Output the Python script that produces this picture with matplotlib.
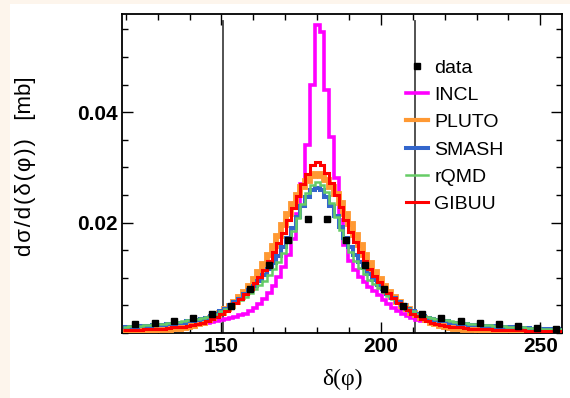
import matplotlib
matplotlib.use('Agg')
import matplotlib.pyplot as plt
from matplotlib.patches import Rectangle
from matplotlib.ticker import MultipleLocator
import numpy as np

# model histograms: 1.5-unit bins, centres 120 .. 256.5 (peak bin centred on 180)
bin_edges = np.arange(119.25, 257.3, 1.5)

incl = [0.0008, 0.0008, 0.0008, 0.0009, 0.0009, 0.0009, 0.0010, 0.0010, 0.0011, 0.0011,
        0.0012, 0.0012, 0.0013, 0.0014, 0.0015, 0.0016, 0.0017, 0.0018, 0.0020, 0.0021,
        0.0023, 0.0025, 0.0027, 0.0029, 0.0032, 0.0035, 0.0039, 0.0045, 0.0052, 0.0061,
        0.0072, 0.0085, 0.0102, 0.0120, 0.0142, 0.0170, 0.0215, 0.0270, 0.0340, 0.0450,
        0.0558,
        0.0545, 0.0440, 0.0355, 0.0280, 0.0205, 0.0160, 0.0130, 0.0114, 0.0102, 0.0092,
        0.0084, 0.0076, 0.0068, 0.0060, 0.0053, 0.0046, 0.0040, 0.0034, 0.0030, 0.0027,
        0.0024, 0.0022, 0.0021, 0.0019, 0.0018, 0.0017, 0.0016, 0.0015, 0.0015, 0.0014,
        0.0013, 0.0013, 0.0012, 0.0012, 0.0011, 0.0011, 0.0011, 0.0010, 0.0010, 0.0010,
        0.0009, 0.0009, 0.0009, 0.0008, 0.0008, 0.0008, 0.0008, 0.0007, 0.0007, 0.0007,
        0.0007]

pluto = [0.0002, 0.0003, 0.0003, 0.0003, 0.0003, 0.0004, 0.0004, 0.0005, 0.0005, 0.0006,
         0.0007, 0.0008, 0.0009, 0.0011, 0.0013, 0.0016, 0.0019, 0.0023, 0.0027, 0.0032,
         0.0037, 0.0043, 0.0049, 0.0057, 0.0065, 0.0075, 0.0085, 0.0097, 0.0110, 0.0125,
         0.0141, 0.0158, 0.0176, 0.0196, 0.0215, 0.0234, 0.0250, 0.0264, 0.0276, 0.0284,
         0.0288,
         0.0285, 0.0277, 0.0265, 0.0251, 0.0235, 0.0216, 0.0197, 0.0177, 0.0159, 0.0142,
         0.0126, 0.0111, 0.0098, 0.0086, 0.0075, 0.0066, 0.0057, 0.0049, 0.0043, 0.0037,
         0.0032, 0.0027, 0.0023, 0.0019, 0.0016, 0.0013, 0.0011, 0.0009, 0.0008, 0.0007,
         0.0006, 0.0005, 0.0005, 0.0004, 0.0004, 0.0003, 0.0003, 0.0003, 0.0003, 0.0002,
         0.0002, 0.0002, 0.0002, 0.0002, 0.0002, 0.0002, 0.0002, 0.0002, 0.0002, 0.0002,
         0.0002]

smash = [0.0010, 0.0011, 0.0011, 0.0012, 0.0012, 0.0013, 0.0014, 0.0015, 0.0015, 0.0016,
         0.0017, 0.0018, 0.0019, 0.0021, 0.0022, 0.0024, 0.0026, 0.0028, 0.0031, 0.0035,
         0.0039, 0.0044, 0.0050, 0.0056, 0.0062, 0.0070, 0.0078, 0.0086, 0.0095, 0.0105,
         0.0116, 0.0127, 0.0140, 0.0155, 0.0172, 0.0191, 0.0211, 0.0230, 0.0247, 0.0259,
         0.0263,
         0.0259, 0.0247, 0.0231, 0.0212, 0.0192, 0.0173, 0.0156, 0.0141, 0.0128, 0.0117,
         0.0106, 0.0096, 0.0087, 0.0079, 0.0071, 0.0063, 0.0056, 0.0050, 0.0044, 0.0039,
         0.0035, 0.0031, 0.0028, 0.0026, 0.0024, 0.0022, 0.0021, 0.0019, 0.0018, 0.0017,
         0.0016, 0.0015, 0.0015, 0.0014, 0.0013, 0.0012, 0.0012, 0.0011, 0.0011, 0.0010,
         0.0010, 0.0010, 0.0009, 0.0009, 0.0008, 0.0008, 0.0008, 0.0007, 0.0007, 0.0007,
         0.0006]

rqmd = [0.0011, 0.0012, 0.0013, 0.0013, 0.0014, 0.0015, 0.0016, 0.0016, 0.0017, 0.0018,
        0.0019, 0.0020, 0.0021, 0.0023, 0.0024, 0.0025, 0.0027, 0.0029, 0.0031, 0.0035,
        0.0039, 0.0044, 0.0050, 0.0055, 0.0060, 0.0066, 0.0073, 0.0080, 0.0087, 0.0095,
        0.0105, 0.0116, 0.0129, 0.0145, 0.0164, 0.0185, 0.0209, 0.0234, 0.0254, 0.0268,
        0.0274,
        0.0268, 0.0255, 0.0235, 0.0210, 0.0186, 0.0165, 0.0146, 0.0130, 0.0117, 0.0106,
        0.0096, 0.0088, 0.0081, 0.0074, 0.0067, 0.0061, 0.0055, 0.0050, 0.0044, 0.0039,
        0.0035, 0.0031, 0.0029, 0.0027, 0.0025, 0.0024, 0.0023, 0.0021, 0.0020, 0.0019,
        0.0018, 0.0017, 0.0016, 0.0016, 0.0015, 0.0014, 0.0013, 0.0013, 0.0012, 0.0011,
        0.0011, 0.0010, 0.0010, 0.0009, 0.0009, 0.0009, 0.0008, 0.0008, 0.0008, 0.0007,
        0.0007]

gibuu = [0.0005, 0.0006, 0.0006, 0.0006, 0.0007, 0.0007, 0.0007, 0.0008, 0.0008, 0.0009,
         0.0010, 0.0010, 0.0011, 0.0013, 0.0015, 0.0017, 0.0019, 0.0022, 0.0025, 0.0029,
         0.0034, 0.0040, 0.0046, 0.0054, 0.0062, 0.0071, 0.0080, 0.0091, 0.0102, 0.0115,
         0.0130, 0.0146, 0.0163, 0.0182, 0.0204, 0.0227, 0.0249, 0.0270, 0.0289, 0.0304,
         0.0310,
         0.0305, 0.0290, 0.0271, 0.0250, 0.0228, 0.0205, 0.0183, 0.0164, 0.0147, 0.0131,
         0.0116, 0.0103, 0.0092, 0.0081, 0.0072, 0.0063, 0.0055, 0.0047, 0.0041, 0.0035,
         0.0030, 0.0026, 0.0022, 0.0019, 0.0017, 0.0015, 0.0013, 0.0011, 0.0010, 0.0010,
         0.0009, 0.0008, 0.0008, 0.0007, 0.0007, 0.0007, 0.0006, 0.0006, 0.0006, 0.0005,
         0.0005, 0.0005, 0.0005, 0.0004, 0.0004, 0.0004, 0.0004, 0.0003, 0.0003, 0.0003,
         0.0003]

# measured points (6-unit bins)
data_x = [123, 129, 135, 141, 147, 153, 159, 165, 171, 177, 183, 189,
          195, 201, 207, 213, 219, 225, 231, 237, 243, 249, 255]
data_y = [0.0017, 0.0019, 0.0022, 0.0028, 0.0034, 0.0049, 0.0079, 0.0124, 0.0168, 0.0207,
          0.0207, 0.0168, 0.0124, 0.0079, 0.0049, 0.0034, 0.0028, 0.0022, 0.00186, 0.00157,
          0.00126, 0.00096, 0.00066]

cut_lines = [150.5, 210.6]

plt.rcParams['font.family'] = ['Liberation Sans', 'DejaVu Sans']

fig = plt.figure(figsize=(5.7, 3.98), dpi=100)
fig.patch.set_facecolor('#fdf5ec')
fig.patches.append(Rectangle((10 / 570, 0), 1, 394 / 398, transform=fig.transFigure,
                             facecolor='white', edgecolor='none', zorder=-10))

ax = fig.add_axes([122 / 570, 65 / 398, 440 / 570, 319 / 398])
ax.set_zorder(2)

models = [
    ('INCL', incl, '#ff00ff', 2.6, 2),
    ('PLUTO', pluto, '#ff9933', 4.2, 3),
    ('SMASH', smash, '#3366cc', 2.9, 4),
    ('rQMD', rqmd, '#66cc66', 1.8, 5),
    ('GIBUU', gibuu, '#ff0000', 2.2, 6),
]
handles = []
for name, vals, col, lw, z in models:
    ax.stairs(vals, bin_edges, baseline=None, color=col, lw=lw, zorder=z)
    handles.append(plt.Line2D([], [], color=col, lw=min(lw, 3.0), label=name))

pts, = ax.plot(data_x, data_y, 's', color='black', ms=4.5, ls='none', zorder=8, label='data')

for xv in cut_lines:
    ax.plot([xv, xv], [0, 0.0566], color='#444444', lw=1.3, zorder=1)

ax.set_xlim(118.8, 256.8)
ax.set_ylim(0, 0.0578)
ax.xaxis.set_major_locator(MultipleLocator(50))
ax.xaxis.set_minor_locator(MultipleLocator(10))
ax.yaxis.set_minor_locator(MultipleLocator(0.005))
ax.set_yticks([0.02, 0.04])
ax.set_yticklabels(['0.02', '0.04'])
ax.tick_params(which='both', direction='in', top=True, right=True, width=1)
ax.tick_params(which='major', length=8, labelsize=15, pad=3)
ax.tick_params(which='minor', length=4)
for lab in ax.get_xticklabels() + ax.get_yticklabels():
    lab.set_fontweight('bold')
for sp in ax.spines.values():
    sp.set_linewidth(1.3)

fig.text(26 / 570, 1 - 166 / 398,
         'd\u200a\u03c3\u200a/\u200ad\u200a(\u200a\u03b4\u200a(\u200a\u03c6\u200a)\u200a)   [mb]',
         rotation=90, ha='center', va='center', fontsize=16)
fig.text(342 / 570, 1 - 379 / 398, '\u03b4(\u03c6)', ha='center', va='center',
         fontsize=17, family=['Liberation Serif', 'DejaVu Serif'])

leg = ax.legend(handles=[pts] + handles, loc='upper left',
                bbox_to_anchor=(406 / 570, 1 - 59 / 398), bbox_transform=fig.transFigure,
                frameon=False, fontsize=14, handlelength=1.15, handletextpad=0.3,
                labelspacing=0.5, borderpad=0, borderaxespad=0)
leg.set_zorder(10)

plt.savefig('out.png', dpi=100, facecolor=fig.get_facecolor())
plt.close(fig)
